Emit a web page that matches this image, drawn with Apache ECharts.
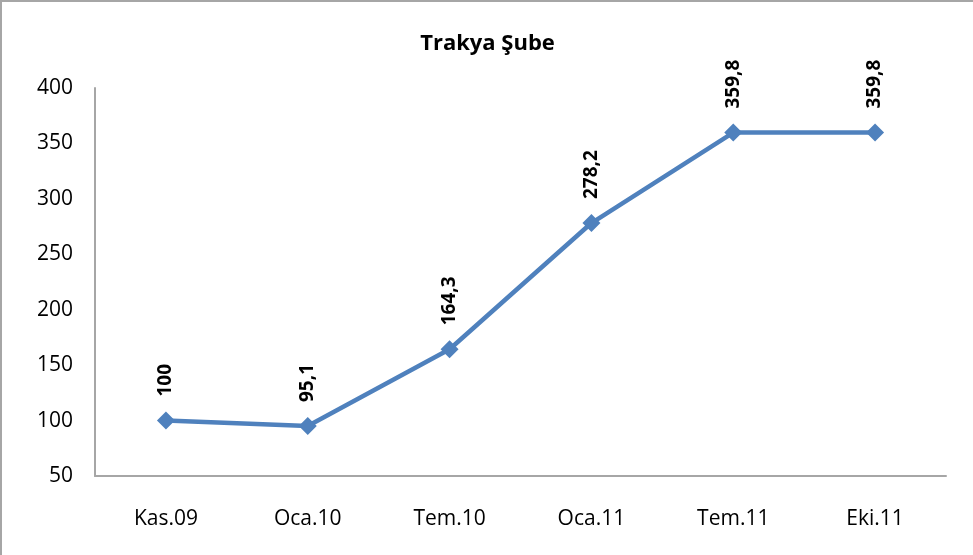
<!DOCTYPE html>
<html>
<head>
<meta charset="utf-8">
<script src="https://cdn.jsdelivr.net/npm/echarts@6/dist/echarts.min.js"></script>
<style>
  html, body { margin: 0; padding: 0; background: #fff; }
  #chart { width: 973px; height: 555px; box-sizing: border-box; border-left: 2px solid #a6a6a6; border-top: 2px solid #a6a6a6; }
</style>
</head>
<body>
<div id="chart"></div>
<script>
// dönemler
var categories = ['Kas.09', 'Oca.10', 'Tem.10', 'Oca.11', 'Tem.11', 'Eki.11'];
// Trakya Şube endeks değerleri
var values = [100, 95.1, 164.3, 278.2, 359.8, 359.8];
var yMin = 50, yMax = 400, yStep = 50;

var chart = echarts.init(document.getElementById('chart'));
chart.setOption({
  animation: false,
  textStyle: { fontFamily: '"Open Sans", "Noto Sans", sans-serif' },
  title: {
    text: 'Trakya Şube',
    left: 'center',
    top: 26,
    textStyle: { fontSize: 22, fontWeight: 'bold', color: '#000', fontFamily: '"Open Sans", sans-serif' }
  },
  grid: { left: 93, top: 86, right: 27, bottom: 79 },
  xAxis: {
    type: 'category',
    data: categories,
    axisLine: { lineStyle: { color: '#a6a6a6', width: 2 } },
    axisTick: { show: false },
    axisLabel: { color: '#000', fontSize: 21, margin: 33 }
  },
  yAxis: {
    type: 'value',
    min: yMin,
    max: yMax,
    interval: yStep,
    axisLine: { show: true, lineStyle: { color: '#a6a6a6', width: 2 } },
    axisTick: { show: false },
    splitLine: { show: false },
    axisLabel: { color: '#000', fontSize: 21, margin: 22 }
  },
  series: [{
    type: 'line',
    data: values,
    symbol: 'diamond',
    symbolSize: 18,
    lineStyle: { color: '#4f81bd', width: 4.5 },
    itemStyle: { color: '#4f81bd' },
    label: {
      show: true,
      rotate: 90,
      position: 'top',
      distance: 15,
      align: 'left',
      verticalAlign: 'middle',
      fontSize: 19,
      fontWeight: 'bold',
      color: '#000',
      formatter: function (p) { return String(p.value).replace('.', ','); }
    }
  }]
});
</script>
</body>
</html>
